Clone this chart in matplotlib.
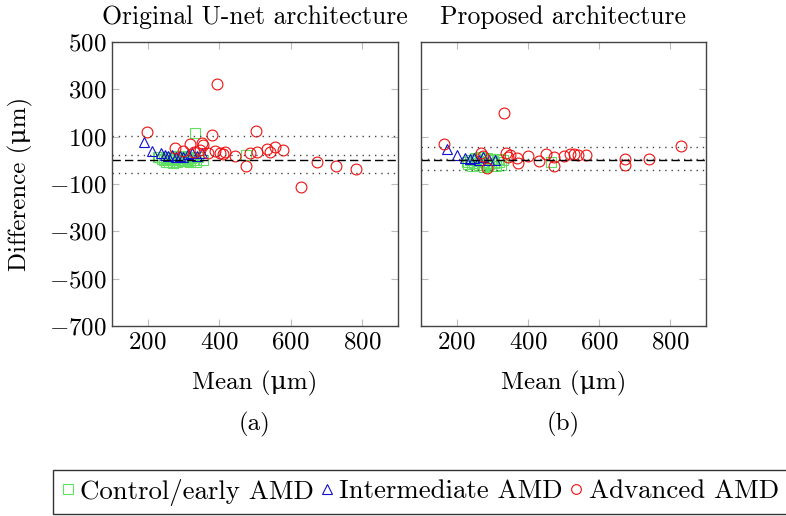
import matplotlib
matplotlib.use("Agg")
import matplotlib.pyplot as plt
from matplotlib.lines import Line2D

plt.rcParams['font.family'] = ['cmr10', 'DejaVu Serif']
plt.rcParams['mathtext.fontset'] = 'cm'
plt.rcParams['axes.formatter.use_mathtext'] = True

titles = ["Original U-net architecture", "Proposed architecture"]
sublabels = ["(a)", "(b)"]
legend_labels = ["Control/early AMD", "Intermediate AMD", "Advanced AMD"]
xlabel = "Mean (\u03bcm)"
ylabel = "Difference (\u03bcm)"

# (a) original U-net
ctrl_x_a = [229, 232, 240, 245, 250, 252, 258, 260, 265, 268, 272, 275, 280, 282, 286, 290, 295,
            298, 302, 305, 310, 312, 318, 320, 325, 328, 335, 340, 355, 332, 475]
ctrl_y_a = [15, 12, 5, 2, -6, 8, 12, -5, 3, 15, -10, 5, 20, -8, 2, 10, -4,
            0, 14, 18, 6, -3, -9, 8, 16, 2, -5, 12, 1, 114, 23]
inter_x_a = [190, 211, 236, 248, 258, 268, 278, 290, 300, 312, 323, 338, 351]
inter_y_a = [79, 40, 30, 23, 18, 22, 15, 20, 12, 25, 30, 18, 30]
adv_x_a = [197, 276, 300, 318, 330, 345, 351, 355, 368, 380, 388, 394, 402, 410, 416,
           444, 475, 486, 502, 506, 533, 542, 556, 577, 628, 673, 726, 782]
adv_y_a = [121, 50, 40, 69, 35, 45, 72, 65, 30, 105, 40, 321, 30, 25, 37,
           18, -24, 32, 124, 37, 47, 37, 55, 44, -113, -8, -24, -38]
bias_a = 24
loa_a = (-55, 102)

# (b) proposed
ctrl_x_b = [228, 233, 238, 243, 248, 252, 255, 260, 262, 266, 270, 274, 278, 282, 285, 288,
            292, 296, 300, 305, 310, 315, 320, 325, 330, 466]
ctrl_y_b = [-5, -15, 2, -25, -12, 10, 5, -2, -20, 12, -8, -18, -30, -10, 8, -25,
            -15, 5, 0, -12, -22, 6, -6, -18, 3, -6]
inter_x_b = [174, 202, 223, 237, 250, 262, 275, 290, 307]
inter_y_b = [48, 23, 10, 4, 8, 2, 12, 0, 1]
adv_x_b = [164, 268, 275, 284, 333, 338, 345, 350, 370, 372, 400, 431, 450, 473, 473,
           500, 518, 530, 540, 564, 674, 674, 739, 830]
adv_y_b = [69, 32, 20, -32, 201, 30, 15, 22, 10, -10, 18, -1, 27, -24, 15,
           20, 25, 25, 22, 21, 4, -20, 6, 61]
bias_b = 7
loa_b = (-41, 55)

GREEN = '#5fe05f'
BLUE = '#1010d0'
RED = '#f01010'

fig = plt.figure(figsize=(7.86, 5.16), dpi=100)
W, H = 786, 516
ax1 = fig.add_axes([112 / W, 1 - 326 / H, 286 / W, 284 / H])
ax2 = fig.add_axes([421 / W, 1 - 326 / H, 285 / W, 284 / H])

panels = [
    (ax1, ctrl_x_a, ctrl_y_a, inter_x_a, inter_y_a, adv_x_a, adv_y_a, bias_a, loa_a),
    (ax2, ctrl_x_b, ctrl_y_b, inter_x_b, inter_y_b, adv_x_b, adv_y_b, bias_b, loa_b),
]

for i, (ax, cx, cy, ix, iy, ax_, ay, bias, loa) in enumerate(panels):
    ax.plot(cx, cy, ls='none', marker='s', ms=7.2, mfc='none', mec=GREEN, mew=0.8)
    ax.plot(ix, iy, ls='none', marker='^', ms=6.5, mfc='none', mec=BLUE, mew=0.8)
    ax.plot(ax_, ay, ls='none', marker='o', ms=7.8, mfc='none', mec=RED, mew=0.8)
    ax.axhline(0, color='black', ls=(0, (6, 3)), lw=1.0)
    for v in (loa[0], bias, loa[1]):
        ax.axhline(v, color='#444444', ls=(0, (1, 3.5)), lw=1.0)
    ax.set_xlim(100, 900)
    ax.set_ylim(-700, 500)
    ax.set_xticks([200, 400, 600, 800])
    ax.set_yticks(range(-700, 501, 200))
    ax.tick_params(direction='in', length=5, color='#bbbbbb', width=0.8,
                   top=True, right=True, labelsize=18, pad=4)
    for s in ax.spines.values():
        s.set_color('#444444')
        s.set_linewidth(1.0)
    if i == 1:
        ax.tick_params(labelleft=False)
    ax.text(0.5, -(383 - 326) / 284, xlabel, transform=ax.transAxes,
            ha='center', va='center', fontsize=18)
    ax.text(0.5, -(424 - 326) / 284, sublabels[i], transform=ax.transAxes,
            ha='center', va='center', fontsize=18)
    ax.text(0.5, 1 + (42 - 17) / 284, titles[i], transform=ax.transAxes,
            ha='center', va='center', fontsize=18.5)

ax1.text(-(112 - 20) / 286, 0.5, ylabel, transform=ax1.transAxes, rotation=90,
         ha='center', va='center', fontsize=18)

handles = [
    Line2D([], [], ls='none', marker='s', ms=7, mfc='none', mec=GREEN, mew=0.8),
    Line2D([], [], ls='none', marker='^', ms=6.5, mfc='none', mec=BLUE, mew=0.8),
    Line2D([], [], ls='none', marker='o', ms=7, mfc='none', mec=RED, mew=0.8),
]
leg = fig.legend(handles, legend_labels, loc='center', ncol=3,
                 bbox_to_anchor=(420 / W, 1 - 492 / H), fontsize=19.3,
                 handlelength=0.5, handletextpad=0.2, columnspacing=0.25,
                 fancybox=False, frameon=True, borderpad=0.3, borderaxespad=0)
leg.get_frame().set_edgecolor('black')
leg.get_frame().set_linewidth(1.0)

fig.savefig("out.png", dpi=100)
